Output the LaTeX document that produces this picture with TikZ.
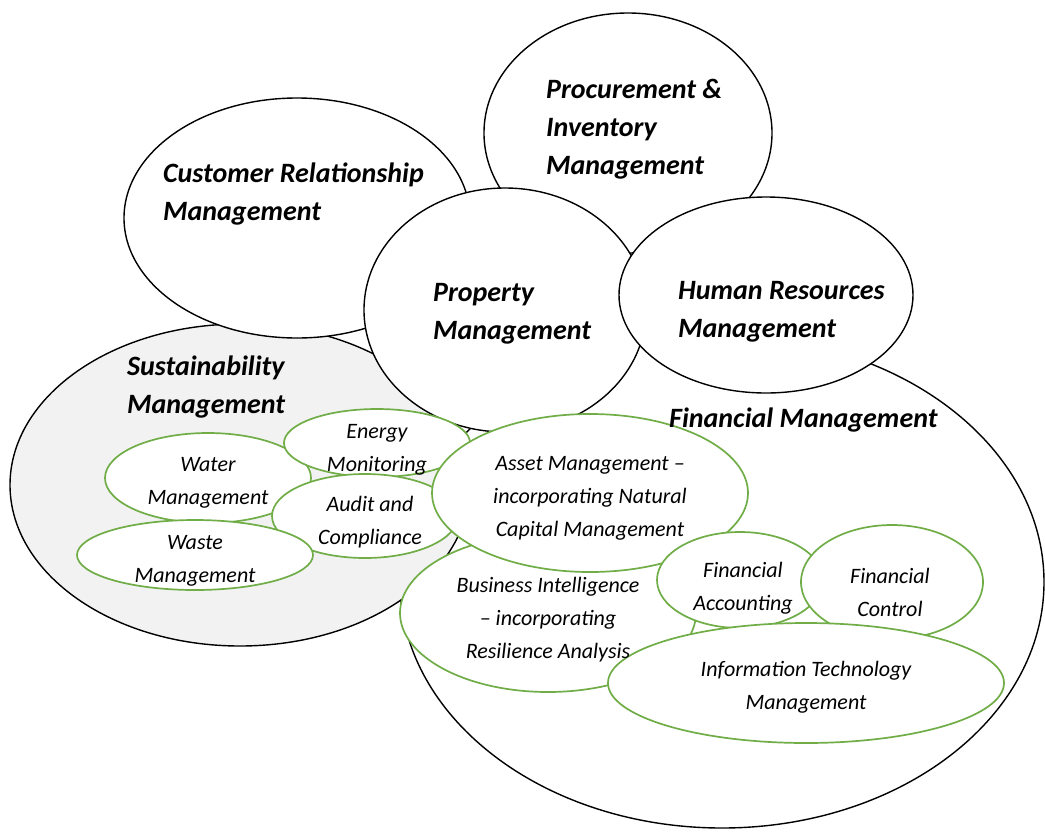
\documentclass[tikz,border=0pt]{standalone}
\usepackage{fontspec}
\setmainfont{Carlito}
\usetikzlibrary{shapes.geometric}
\definecolor{grn}{RGB}{112,173,71}
\definecolor{lgray}{RGB}{242,242,242}
\begin{document}
\begin{tikzpicture}[x=1pt,y=-1pt,
  ell/.style={ellipse, inner sep=0pt, outer sep=0pt},
  bigell/.style={ell, draw=black, line width=1.4pt, fill=white},
  sustell/.style={ell, draw=black, line width=1.4pt, fill=lgray},
  subell/.style={ell, draw=grn, line width=1.7pt, fill=white},
  bigtxt/.style={font=\fontsize{28}{38}\selectfont\bfseries\itshape, align=left, anchor=west, inner sep=0pt},
  subtxt/.style={font=\fontsize{22}{33}\selectfont\itshape, align=center, inner sep=0pt},
]
\fill[white] (0,0) rectangle (1045,831);
\useasboundingbox (0,0) rectangle (1045,831);
% large ellipses
\node[bigell, minimum width=644pt, minimum height=492pt] (fm) at (722,582) {};
\node[sustell, minimum width=460pt, minimum height=322pt] (sm) at (240,485) {};
\node[bigell, minimum width=346pt, minimum height=240pt] (crm) at (297,218) {};
\node[bigell, minimum width=288pt, minimum height=240pt] (pim) at (628,133) {};
\node[bigell, minimum width=282pt, minimum height=244pt] (pm) at (505,310) {};
\node[bigell, minimum width=294pt, minimum height=196pt] (hr) at (766,295) {};
% green ellipses
\node[subell, minimum width=206pt, minimum height=90pt] (water) at (208,478) {};
\node[subell, minimum width=186pt, minimum height=68pt] (energy) at (377,443) {};
\node[subell, minimum width=186pt, minimum height=84pt] (audit) at (365,516) {};
\node[subell, minimum width=236pt, minimum height=70pt] (waste) at (195,555) {};
\node[subell, minimum width=296pt, minimum height=158pt] (bi) at (548,613) {};
\node[subell, minimum width=316pt, minimum height=158pt] (asset) at (590,493) {};
\node[subell, minimum width=166pt, minimum height=96pt] (fa) at (740,580) {};
\node[subell, minimum width=182pt, minimum height=114pt] (fc) at (892,582) {};
\node[subell, minimum width=396pt, minimum height=120pt] (it) at (806,683) {};
% labels
\node[bigtxt] (crm-t) at (163,194) {Customer Relationship\\Management};
\node[bigtxt] (pim-t) at (546,129) {Procurement \&\\Inventory\\Management};
\node[bigtxt] (pm-t) at (433,314) {Property\\Management};
\node[bigtxt] (hr-t) at (678,312) {Human Resources\\Management};
\node[bigtxt] (sm-t) at (127,387) {Sustainability\\Management};
\node[bigtxt] (fm-t) at (669,420) {Financial Management};
\node[subtxt] (water-t) at (208,483) {Water\\Management};
\node[subtxt] (energy-t) at (377,450) {Energy\\Monitoring};
\node[subtxt] (audit-t) at (370,522) {Audit and\\Compliance};
\node[subtxt] (waste-t) at (195,561) {Waste\\Management};
\node[subtxt] (asset-t) at (590,498) {Asset Management –\\incorporating Natural\\Capital Management};
\node[subtxt] (bi-t) at (548,620) {Business Intelligence\\– incorporating\\Resilience Analysis};
\node[subtxt] (fa-t) at (743,588) {Financial\\Accounting};
\node[subtxt] (fc-t) at (890,592) {Financial\\Control};
\node[subtxt] (it-t) at (806,687) {Information Technology\\Management};
\end{tikzpicture}
\end{document}
